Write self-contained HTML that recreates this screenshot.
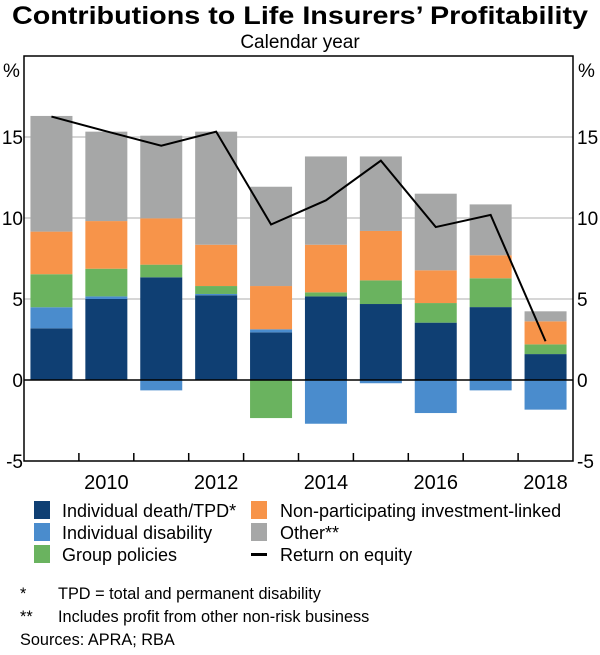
<!DOCTYPE html>
<html><head><meta charset="utf-8"><style>
body{margin:0;background:#fff}
svg text{font-family:"Liberation Sans",Arial,sans-serif;fill:#000}
</style></head><body>
<svg id="c" width="600" height="650" viewBox="0 0 600 650">
<text x="300" y="24" text-anchor="middle" font-size="25" font-weight="bold" textLength="576" lengthAdjust="spacingAndGlyphs">Contributions to Life Insurers’ Profitability</text>
<text x="300" y="48" text-anchor="middle" font-size="19">Calendar year</text>
<text x="3" y="77" font-size="19">%</text>
<text x="578" y="77" font-size="19">%</text>
<g id="grid"></g><g id="bars"></g><g id="line"></g><g id="axes"></g>
<g>
<rect x="34" y="501" width="16" height="18" fill="#0f3f73"/>
<text x="62" y="517" font-size="18">Individual death/TPD*</text>
<rect x="34" y="523" width="16" height="18" fill="#4a8ccd"/>
<text x="62" y="539" font-size="18">Individual disability</text>
<rect x="34" y="545" width="16" height="18" fill="#6ab35f"/>
<text x="62" y="561" font-size="18">Group policies</text>
<rect x="251" y="501" width="16" height="18" fill="#f7944a"/>
<text x="280" y="517" font-size="18">Non-participating investment-linked</text>
<rect x="251" y="523" width="16" height="18" fill="#a6a7a7"/>
<text x="280" y="539" font-size="18">Other**</text>
<rect x="251" y="553" width="16" height="3" fill="#000"/>
<text x="280" y="561" font-size="18">Return on equity</text>
</g>
<g font-size="16.3">
<text x="20" y="599">*</text>
<text x="58" y="599">TPD = total and permanent disability</text>
<text x="20" y="622">**</text>
<text x="58" y="622">Includes profit from other non-risk business</text>
<text x="20" y="645">Sources: APRA; RBA</text>
</g>
</svg>
<script>
const years=[2009,2010,2011,2012,2013,2014,2015,2016,2017,2018];
const death=[3.19,5.0,6.34,5.23,2.94,5.16,4.69,3.54,4.5,1.6];
const disability=[1.3,0.16,-0.64,0.08,0.19,-2.7,-0.2,-2.04,-0.64,-1.83];
const group=[2.04,1.71,0.78,0.49,-2.35,0.25,1.46,1.21,1.78,0.6];
const nonpart=[2.63,2.94,2.86,2.55,2.67,2.94,3.05,2.02,1.42,1.42];
const other=[7.14,5.52,5.1,6.98,6.13,5.45,4.6,4.73,3.14,0.62];
const roe=[16.26,15.35,14.46,15.33,9.6,11.09,13.54,9.44,10.19,2.39];
const yTicks=[-5,0,5,10,15];
const xLabels=[2010,2012,2014,2016,2018];
const L=24,R=573,T=56,B=461,ymin=-5,ymax=20;
const NS="http://www.w3.org/2000/svg";
const cw=(R-L)/years.length, bw=42;
function y(v){return B-(v-ymin)/(ymax-ymin)*(B-T);}
function xc(i){return L+(i+0.5)*cw;}
function mk(tag,attrs,parent){const e=document.createElementNS(NS,tag);for(const k in attrs)e.setAttribute(k,attrs[k]);document.getElementById(parent).appendChild(e);return e;}
yTicks.forEach(t=>{
  if(t!==0&&t!==-5){const g=mk('line',{x1:L,x2:R,y1:y(t),y2:y(t),stroke:'#c8c8c8','stroke-width':1.5},'grid');
  
  }
  const a=mk('text',{x:L-1,y:y(t)+7,'text-anchor':'end','font-size':19},'axes');a.textContent=t;
  
  
  const b=mk('text',{x:R+4,y:y(t)+7,'font-size':19},'axes');b.textContent=t;
  
  
});
const series=[[death,'#0f3f73','bar-death'],[disability,'#4a8ccd','bar-disability'],[group,'#6ab35f','bar-group'],[nonpart,'#f7944a','bar-nonpart'],[other,'#a6a7a7','bar-other']];
years.forEach((yr,i)=>{
  let pos=0,neg=0;
  series.forEach(([arr,col,nm])=>{
    const v=arr[i];let a,b;
    if(v>=0){a=pos;b=pos+v;pos=b;}else{a=neg;b=neg+v;neg=b;}
    const r=mk('rect',{x:xc(i)-bw/2,y:Math.min(y(a),y(b)),width:bw,height:Math.abs(y(a)-y(b)),fill:col},'bars');
    
    
  });
});
const pts=roe.map((v,i)=>xc(i)+','+y(v)).join(' ');
const pl=mk('polyline',{points:pts,fill:'none',stroke:'#000','stroke-width':2},'line');


const z=mk('line',{x1:L,x2:R,y1:y(0),y2:y(0),stroke:'#000','stroke-width':1.5},'axes');


const fr=mk('rect',{x:L,y:T,width:R-L,height:B-T,fill:'none',stroke:'#000','stroke-width':1.5},'axes');


for(let i=1;i<years.length;i++){const t=mk('line',{x1:L+i*cw,x2:L+i*cw,y1:B,y2:B-8,stroke:'#000','stroke-width':1.5},'axes');
  
  }
xLabels.forEach(l=>{const i=years.indexOf(l);const t=mk('text',{x:xc(i),y:489,'text-anchor':'middle','font-size':20},'axes');t.textContent=l;
  
  });
</script>
</body></html>
